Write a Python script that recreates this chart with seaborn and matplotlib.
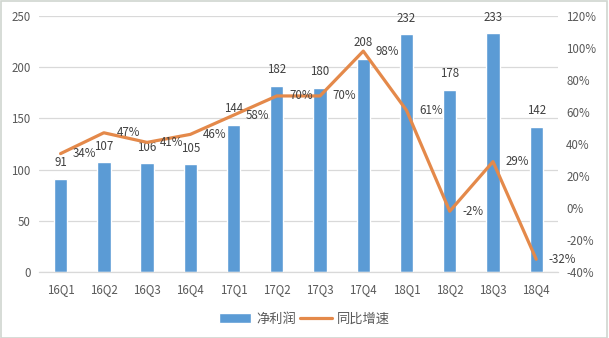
import matplotlib
matplotlib.use("Agg")
import matplotlib.pyplot as plt
import seaborn as sns
import pandas as pd
from matplotlib.ticker import FuncFormatter, MultipleLocator

quarters = ["16Q1", "16Q2", "16Q3", "16Q4", "17Q1", "17Q2",
            "17Q3", "17Q4", "18Q1", "18Q2", "18Q3", "18Q4"]
net_profit = [91, 107, 106, 105, 144, 182, 180, 208, 232, 178, 233, 142]
yoy_growth = [34, 47, 41, 46, 58, 70, 70, 98, 61, -2, 29, -32]

bar_name = "净利润"
line_name = "同比增速"

sns.set_theme(style="white")
plt.rcParams["font.family"] = ["Noto Sans CJK SC", "DejaVu Sans"]

BAR_COLOR = "#5B9BD5"
LINE_COLOR = "#E4894A"
TEXT_COLOR = "#595959"
LABEL_COLOR = "#404040"
GRID_COLOR = "#D9D9D9"
FS = 8.3

df = pd.DataFrame({"quarter": quarters, "profit": net_profit,
                   "growth": yoy_growth, "pos": range(len(quarters))})

fig = plt.figure(figsize=(6.09, 3.38), dpi=100)
ax = fig.add_axes([0.064, 0.195, 0.852, 0.758])

sns.barplot(data=df, x="quarter", y="profit", color=BAR_COLOR, width=0.31,
            saturation=1, ax=ax, label=bar_name)
if ax.get_legend() is not None:
    ax.get_legend().remove()
ax.set_xlim(-0.5, len(quarters) - 0.5)
ax.set_ylim(0, 250)
ax.yaxis.set_major_locator(MultipleLocator(50))
ax.grid(axis="y", color=GRID_COLOR, lw=0.9)
ax.set_axisbelow(True)
for s in ["top", "left", "right"]:
    ax.spines[s].set_visible(False)
ax.spines["bottom"].set_color(GRID_COLOR)
ax.spines["bottom"].set_linewidth(0.9)
ax.set_xlabel("")
ax.set_ylabel("")
ax.tick_params(axis="both", length=0, labelsize=FS, labelcolor=TEXT_COLOR)
ax.tick_params(axis="y", pad=6)
ax.tick_params(axis="x", pad=8)

for i, v in enumerate(net_profit):
    ax.annotate(f"{v}", (i, v), xytext=(0, 7), textcoords="offset points",
                ha="center", va="bottom", fontsize=FS, color=LABEL_COLOR)

ax2 = ax.twinx()
sns.lineplot(data=df, x="pos", y="growth", color=LINE_COLOR, lw=2.3,
             ax=ax2, label=line_name, legend=False)
ax2.set_ylim(-40, 120)
ax2.yaxis.set_major_locator(MultipleLocator(20))
ax2.yaxis.set_major_formatter(FuncFormatter(lambda v, _: f"{v:.0f}%"))
for s in ax2.spines.values():
    s.set_visible(False)
ax2.set_ylabel("")
ax2.set_xlabel("")
ax2.tick_params(axis="y", length=0, labelsize=FS, labelcolor=TEXT_COLOR, pad=6)
ax2.grid(False)

for i, g in enumerate(yoy_growth):
    ax2.annotate(f"{g}%", (i, g), xytext=(9, 0), textcoords="offset points",
                 ha="left", va="center", fontsize=FS, color=LABEL_COLOR)

h1, l1 = ax.get_legend_handles_labels()
h2, l2 = ax2.get_legend_handles_labels()
fig.legend(h1 + h2, l1 + l2, loc="center", bbox_to_anchor=(0.5, 0.056),
           ncol=2, frameon=False, fontsize=9.5, handlelength=2.4,
           columnspacing=0.3, handletextpad=0.4, labelcolor=TEXT_COLOR)

fig.patches.append(plt.Rectangle((0.001, 0.001), 0.996, 0.997,
                                 transform=fig.transFigure, fill=False,
                                 edgecolor="#D0D6D0", lw=1.2))

fig.savefig("out.png", dpi=100)
